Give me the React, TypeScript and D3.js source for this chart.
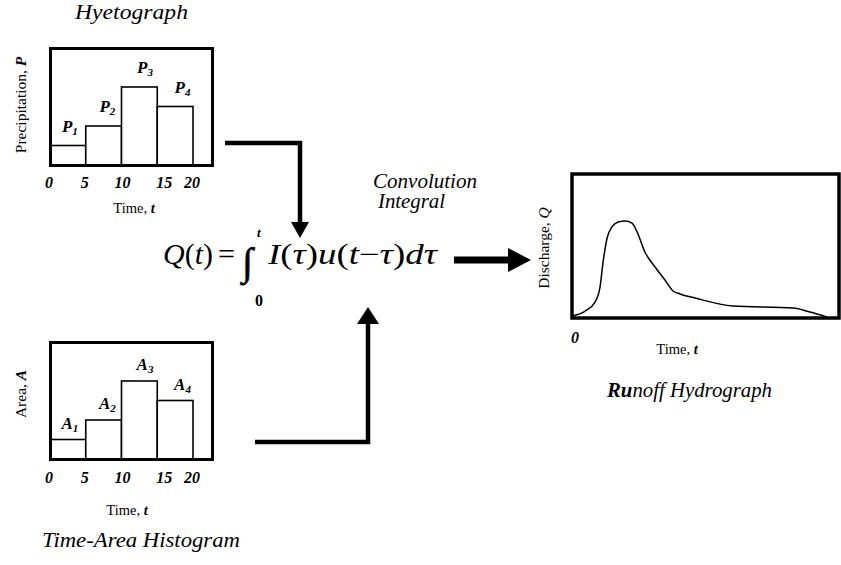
import React from "react";
import * as d3 from "d3";

// ---- Data ----
const binEdges = [0, 5, 10, 15, 20];
const tickLabels = ["0", "5", "10", "15", "20"];
const precipValues = [1, 2, 4, 3];
const areaValues = [1, 2, 4, 3];
const subscripts = ["1", "2", "3", "4"];
const hydroTime = [0, 4.9, 8.6, 10.4, 11.6, 13.1, 14.9, 17.2, 19.8, 22.4, 24.3, 27.2, 31, 34.7, 37.7, 40.3, 45.9, 60, 82.5, 88.8, 95.1];
const hydroQ = [1.4, 4.8, 11, 20.7, 38.6, 55.2, 62.8, 66.2, 66.9, 65.5, 59.3, 45.5, 35.2, 26.2, 18.6, 16.6, 13.8, 8.3, 6.9, 4.1, 0.7];

const SERIF = "'Liberation Serif', 'Times New Roman', serif";

type PanelProps = {
  top: number;
  values: number[];
  letter: string;
  yLabel: string;
  yVar: string;
  yLabelY: number;
  labelGap: number;
  tickY: number;
  timeX: number;
  timeY: number;
};

function Histogram(p: PanelProps) {
  const boxTop = p.top;
  const bottom = boxTop + 118;
  const x = d3.scaleLinear().domain([0, 20]).range([50, 193]);
  const y = d3.scaleLinear().domain([0, 6]).range([bottom, bottom - 117]);
  return (
    <g>
      <rect x={50.5} y={boxTop + 1.5} width={162} height={117} fill="white" stroke="black" strokeWidth={3} />
      {p.values.map((v, i) => (
        <rect key={i} x={x(binEdges[i])} y={y(v)} width={x(binEdges[i + 1]) - x(binEdges[i])} height={y(0) - y(v)}
          fill="white" stroke="black" strokeWidth={1.6} />
      ))}
      <rect x={50.5} y={boxTop + 1.5} width={162} height={117} fill="none" stroke="black" strokeWidth={3} />
      {p.values.map((v, i) => (
        <text key={"l" + i} x={(x(binEdges[i]) + x(binEdges[i + 1])) / 2 + 2 + i * 1.8} y={y(v) - p.labelGap}
          textAnchor="middle" fontFamily={SERIF} fontStyle="italic" fontWeight="bold" fontSize={17}>
          {p.letter}
          <tspan fontSize={11} dy={3}>{subscripts[i]}</tspan>
        </text>
      ))}
      {binEdges.map((e, i) => (
        <text key={"t" + i} x={x(e) - 1 + (i === 3 ? 8 : i === 2 ? 2 : 0)} y={p.tickY} textAnchor="middle"
          fontFamily={SERIF} fontStyle="italic" fontWeight="bold" fontSize={16}>{tickLabels[i]}</text>
      ))}
      <text x={p.timeX} y={p.timeY} textAnchor="middle" fontFamily={SERIF} fontSize={14.5}>
        Time, <tspan fontStyle="italic" fontWeight="bold">t</tspan>
      </text>
      <text transform={`translate(26,${p.yLabelY}) rotate(-90)`} textAnchor="middle" fontFamily={SERIF} fontSize={15.5}>
        {p.yLabel}<tspan fontStyle="italic" fontWeight="bold">{p.yVar}</tspan>
      </text>
    </g>
  );
}

export default function App() {
  const hx = d3.scaleLinear().domain([0, 100]).range([572, 840]);
  const hy = d3.scaleLinear().domain([0, 100]).range([318, 173]);
  const line = d3.line<number>()
    .x((_, i) => hx(hydroTime[i]))
    .y((d) => hy(d))
    .curve(d3.curveMonotoneX);

  return (
    <svg width={841} height={565} style={{ position: "absolute", left: 0, top: 0, background: "white" }}>
      <rect width={841} height={565} fill="white" />
      {/* Titles */}
      <text x={75} y={19} fontFamily={SERIF} fontStyle="italic" fontSize={21} textLength={113} lengthAdjust="spacingAndGlyphs">Hyetograph</text>
      <text x={42} y={547} fontFamily={SERIF} fontStyle="italic" fontSize={21} textLength={198} lengthAdjust="spacingAndGlyphs">Time-Area Histogram</text>
      <text x={607} y={397} fontFamily={SERIF} fontStyle="italic" fontSize={20} textLength={165} lengthAdjust="spacingAndGlyphs">
        <tspan fontWeight="bold">Ru</tspan>noff Hydrograph
      </text>
      <text x={373} y={188} fontFamily={SERIF} fontStyle="italic" fontSize={20} textLength={104} lengthAdjust="spacingAndGlyphs">Convolution</text>
      <text x={378} y={208} fontFamily={SERIF} fontStyle="italic" fontSize={20} textLength={67} lengthAdjust="spacingAndGlyphs">Integral</text>

      <Histogram top={47} values={precipValues} letter="P" yLabel="Precipitation, " yVar="P" yLabelY={105}
        labelGap={14} tickY={188} timeX={134} timeY={213} />
      <Histogram top={341} values={areaValues} letter="A" yLabel="Area, " yVar="A" yLabelY={394}
        labelGap={11} tickY={483} timeX={127} timeY={515} />

      {/* Equation */}
      <text x={163} y={264} fontFamily={SERIF} fontSize={29} textLength={50} lengthAdjust="spacingAndGlyphs">
        <tspan fontStyle="italic">Q</tspan>(<tspan fontStyle="italic">t</tspan>)
      </text>
      <text x={218} y={264} fontFamily={SERIF} fontSize={29} textLength={17} lengthAdjust="spacingAndGlyphs">=</text>
      <text x={242} y={275} fontFamily={SERIF} fontSize={39} stroke="black" strokeWidth={0.7}>∫</text>
      <text x={257} y={237} fontFamily={SERIF} fontStyle="italic" fontWeight="bold" fontSize={13}>t</text>
      <text x={255} y={306} fontFamily={SERIF} fontWeight="bold" fontSize={16}>0</text>
      <text x={268} y={264} fontFamily={SERIF} fontSize={29} textLength={169} lengthAdjust="spacingAndGlyphs">
        <tspan fontStyle="italic">I</tspan>(<tspan fontStyle="italic">τ</tspan>)<tspan fontStyle="italic">u</tspan>(<tspan fontStyle="italic">t</tspan>−<tspan fontStyle="italic">τ</tspan>)<tspan fontStyle="italic">dτ</tspan>
      </text>

      {/* Arrows */}
      <polyline points="225,143 300,143 300,224" fill="none" stroke="black" strokeWidth={4.5} />
      <polygon points="291,222 309,222 300,238" fill="black" />
      <polyline points="255,442 368,442 368,322" fill="none" stroke="black" strokeWidth={4.5} />
      <polygon points="357,324 379,324 368,307" fill="black" />
      <line x1={454} y1={260} x2={510} y2={260} stroke="black" strokeWidth={7} />
      <polygon points="508,248 508,272 531,260" fill="black" />

      {/* Hydrograph */}
      <path d={line(hydroQ) || ""} fill="none" stroke="black" strokeWidth={1.5} />
      <rect x={572} y={174} width={267} height={144} fill="none" stroke="black" strokeWidth={3.5} />
      <text x={575} y={343} textAnchor="middle" fontFamily={SERIF} fontStyle="italic" fontWeight="bold" fontSize={16}>0</text>
      <text x={677} y={354} textAnchor="middle" fontFamily={SERIF} fontSize={14.5}>
        Time, <tspan fontStyle="italic" fontWeight="bold">t</tspan>
      </text>
      <text transform="translate(549,248) rotate(-90)" textAnchor="middle" fontFamily={SERIF} fontSize={15.5}>
        Discharge, <tspan fontStyle="italic">Q</tspan>
      </text>
    </svg>
  );
}
